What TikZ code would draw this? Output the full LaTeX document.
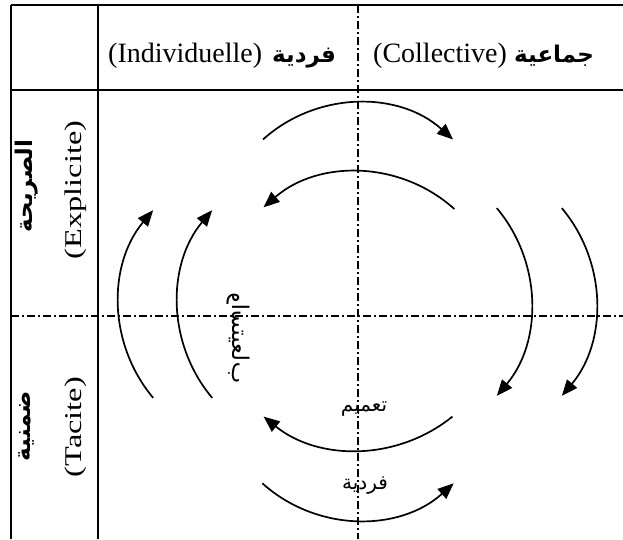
\documentclass[tikz,border=0pt]{standalone}
\usepackage{fontspec}
\setmainfont{Liberation Serif}
\newfontfamily\arb[Script=Arabic]{DejaVu Sans}
\TeXXeTstate=1
\usetikzlibrary{arrows.meta}
\begin{document}
\begin{tikzpicture}[x=1pt,y=-1pt,
  tbl/.style={line width=1.6pt},
  axisline/.style={line width=1.6pt, dash pattern=on 8pt off 3pt on 2pt off 3pt},
  cyc/.style={line width=1.7pt, -{Triangle[length=16pt,width=13pt]}},
  hdr/.style={inner sep=0pt, font=\fontsize{28}{30}\selectfont},
  hdrar/.style={inner sep=0pt, font=\fontsize{23}{26}\selectfont\arb\bfseries},
  rowlat/.style={inner sep=0pt, font=\fontsize{24}{26}\selectfont},
  rowar/.style={inner sep=0pt, font=\fontsize{23}{26}\selectfont\arb\bfseries},
  inar/.style={inner sep=0pt, font=\fontsize{20}{24}\selectfont\arb}]
\useasboundingbox (0,0) rectangle (623,539);
% table
\draw[line width=2pt] (11,5) -- (623,5);
\draw[tbl] (11,90) -- (623,90);
\draw[tbl] (11,5) -- (11,539);
\draw[tbl] (98,5) -- (98,539);
% axes
\draw[axisline] (358,5) -- (358,539);
\draw[axisline] (11,316) -- (623,316);
% header
\node[hdr, anchor=base west] (ind) at (108,62) {(Individuelle)};
\node[hdrar, anchor=base west] (fard) at (272,62) {\beginR فردية\endR};
\node[hdr, anchor=base west] (col) at (373,62) {(Collective)};
\node[hdrar, anchor=base west] (jam) at (514,62) {\beginR جماعية\endR};
% row labels
\node[rowlat, rotate=90, xscale=1.35] (expl) at (76,190) {(Explicite)};
\node[rowar, rotate=90] (sar) at (27,186) {\beginR الصريحة\endR};
\node[rowlat, rotate=90, xscale=1.35] (tac) at (76,427) {(Tacite)};
\node[rowar, rotate=90] (dim) at (27,426) {\beginR ضمنية\endR};
% cycle arcs
\draw[cyc] ([shift={(228:142)}]358,245) arc[start angle=228, end angle=312, radius=142];
\draw[cyc] ([shift={(312:144)}]358,316) arc[start angle=312, end angle=229, radius=144];
\draw[cyc] ([shift={(51:150)}]358,300) arc[start angle=51, end angle=129, radius=150];
\draw[cyc] ([shift={(132:143)}]358,377) arc[start angle=132, end angle=48, radius=143];
\draw[cyc] ([shift={(-40:146)}]385,302) arc[start angle=-40, end angle=40, radius=146];
\draw[cyc] ([shift={(-40:146)}]450,302) arc[start angle=-40, end angle=40, radius=146];
\draw[cyc] ([shift={(140:146)}]324,304) arc[start angle=140, end angle=220, radius=146];
\draw[cyc] ([shift={(140:146)}]265,304) arc[start angle=140, end angle=220, radius=146];
% inner labels
\node[inar, font=\fontsize{23}{26}\selectfont\arb, cm={0,1,1,0,(0,0)}] (ist) at (238,338) {\beginR واستيعاب\endR};
\node[inar] (tam) at (364,409) {\beginR تعميم\endR};
\node[inar] (frd) at (365,486) {\beginR فردية\endR};
\end{tikzpicture}
\end{document}
